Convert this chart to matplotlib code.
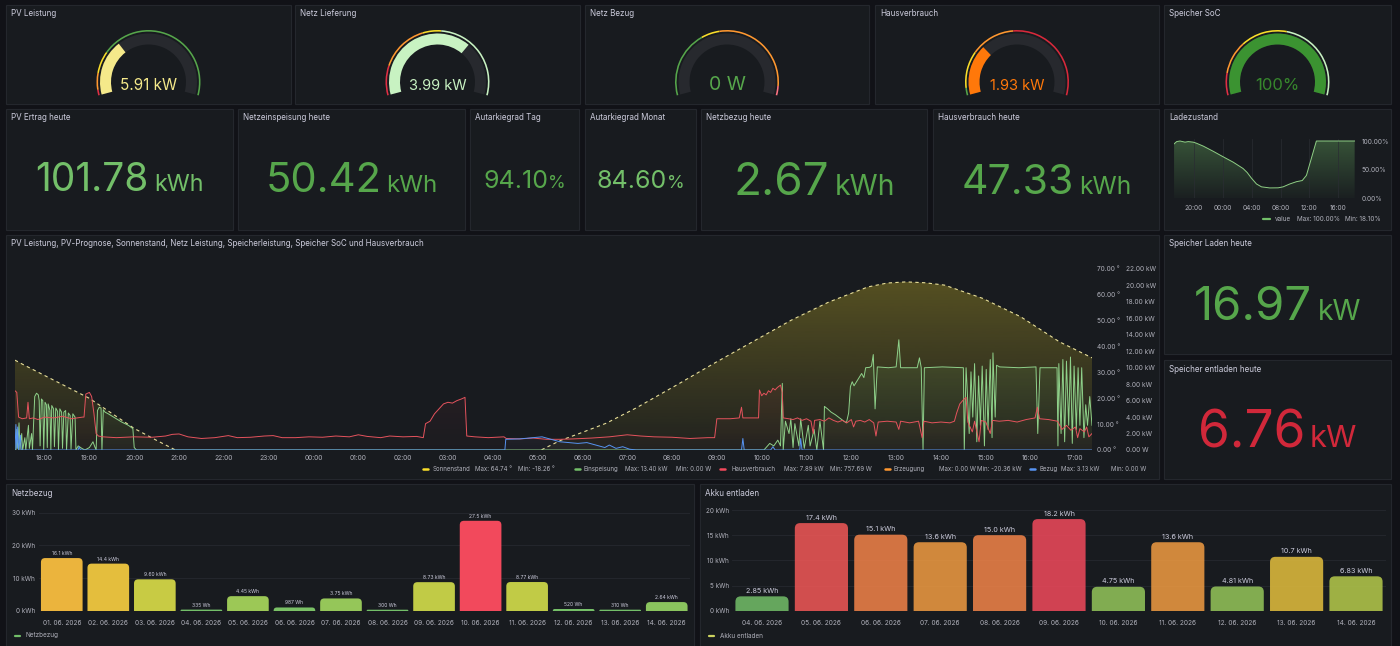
#!/usr/bin/env python3
"""PV dashboard (Grafana style) rebuilt with matplotlib -> out.png"""
import numpy as np
import matplotlib
matplotlib.use("Agg")
import matplotlib.pyplot as plt
from matplotlib.patches import Rectangle, Wedge, FancyBboxPatch
from matplotlib.colors import to_rgb

# ---------------- data ----------------
# hours since midnight of the first day (24 -> 00:00 next day)
sun_t = [17.34, 17.5, 18.0, 18.5, 19.0, 19.5, 20.0, 20.5, 20.92, 21.5, 22.5, 23.5, 24.5, 25.3,
         26.5, 27.5, 28.5, 29.08, 29.5, 30.0, 30.53, 31.2, 32.1, 32.95, 33.8, 34.66, 35.5,
         36.37, 36.8, 37.22, 37.65, 38.08, 38.93, 39.78, 40.64, 41.37]
sun_v = [34.6, 33.1, 28.7, 24.3, 19.9, 14.1, 8.3, 3.7, 0.0, -4.5, -11.0, -16.0, -18.2, -18.26,
         -16.5, -12.0, -6.0, 0.0, 3.6, 6.8, 10.3, 16.2, 25.0, 33.5, 41.7, 50.0, 57.0,
         62.8, 64.3, 64.74, 64.4, 63.5, 58.4, 51.3, 41.7, 35.5]

ein_t = [17.34, 17.36, 17.38, 17.40, 17.43, 17.45, 17.49, 17.51, 17.56, 17.58, 17.64, 17.66, 17.71,
         17.73, 17.78, 17.82, 17.86, 17.88, 17.90, 17.93, 17.96, 17.98, 18.01, 18.04, 18.06, 18.08,
         18.12, 18.14, 18.16, 18.20, 18.22, 18.25, 18.29, 18.31, 18.34, 18.38, 18.40, 18.43, 18.47,
         18.49, 18.53, 18.57, 18.59, 18.63, 18.68, 18.70, 18.75, 18.83, 18.90, 19.00, 19.08, 19.12,
         19.15, 19.18, 19.22, 19.26, 19.28, 19.31, 19.35, 19.42, 19.57, 19.72, 19.87, 19.97, 20.00,
         20.05, 34.05,
         34.10, 34.18, 34.27, 34.36, 34.42, 34.46, 34.48, 34.53, 34.61, 34.65, 34.70, 34.74, 34.83,
         34.87, 34.95, 35.04, 35.08, 35.17, 35.23, 35.30, 35.38, 35.40, 35.47, 35.55, 35.64, 35.81,
         35.89, 35.94, 35.98, 36.02, 36.06, 36.15, 36.23, 36.28, 36.32, 36.41, 36.45, 36.49, 36.53,
         36.58, 36.83, 37.00, 37.06, 37.10, 37.47, 37.52, 37.56, 37.60, 37.63, 38.03, 38.50, 38.52,
         38.56, 38.58, 38.63, 38.67, 38.71, 38.75, 38.80, 38.84, 38.88, 38.92, 38.97, 39.01, 39.05,
         39.10, 39.14, 39.16, 39.21, 39.24, 39.31, 39.74, 40.12, 40.16, 40.21, 40.59, 40.61, 40.63,
         40.68, 40.72, 40.76, 40.80, 40.85, 40.89, 40.93, 40.97, 41.02, 41.06, 41.10, 41.14, 41.19,
         41.23, 41.27, 41.32, 41.37]
ein_v = [0.0, 0.0, 2.5, 0.2, 3.3, 0.0, 2.0, 0.0, 1.5, 0.0, 3.0, 0.2, 2.0,
         0.0, 6.5, 6.9, 6.7, 6.0, 0.5, 6.2, 6.0, 0.0, 5.8, 5.5, 0.3, 5.6,
         4.8, 0.0, 5.4, 5.0, 0.4, 5.1, 4.7, 0.0, 5.0, 4.6, 0.2, 4.6, 4.8,
         0.0, 4.5, 4.2, 0.1, 4.4, 4.0, 0.0, 0.5, 0.2, 0.0, 0.3, 1.0, 0.4,
         0.0, 4.8, 5.2, 5.1, 0.0, 4.9, 4.6, 4.4, 3.9, 3.4, 3.0, 2.6, 0.3,
         0.0, 0.0,
         0.3, 0.8, 0.5, 1.2, 0.5, 8.1, 0.0, 3.5, 2.0, 3.8, 0.3, 3.2, 0.5,
         3.8, 0.2, 3.0, 0.5, 2.5, 0.0, 3.5, 0.0, 5.3, 5.0, 4.6, 4.3, 3.6,
         3.3, 4.5, 7.7, 8.3, 7.8, 8.6, 9.3, 8.8, 10.0, 10.05, 10.2, 11.6, 5.0,
         10.1, 10.0, 10.1, 13.4, 10.0, 10.0, 11.2, 10.0, 0.0, 10.0, 10.1, 10.0, 0.0,
         10.0, 8.0, 2.0, 9.5, 4.0, 10.5, 1.0, 9.0, 3.0, 10.2, 0.5, 9.8, 2.5,
         11.0, 1.5, 11.8, 4.0, 10.3, 10.1, 10.0, 10.1, 2.0, 10.0, 10.0, 0.5, 10.5,
         2.0, 11.0, 1.0, 10.8, 3.0, 11.3, 0.8, 10.2, 2.5, 10.0, 3.0, 10.0, 1.5,
         5.5, 3.0, 6.5, 3.0]

haus_t = [17.34, 17.38, 17.42, 17.50, 17.60, 17.63, 17.66, 17.75, 17.85, 18.00, 18.20, 18.40, 18.60,
          18.85, 18.88, 18.92, 19.00, 19.05, 19.10, 19.15, 19.20, 19.30, 19.60, 20.00, 20.40, 20.70,
          20.85, 21.00, 21.20, 21.50, 21.80, 22.10, 22.30, 22.60, 22.90, 23.10, 23.30, 23.60, 23.90,
          24.20, 24.50, 24.80, 25.00, 25.20, 25.50, 25.70, 26.00, 26.30, 26.45, 26.50, 26.60, 26.70,
          26.80, 26.90, 27.00, 27.10, 27.20, 27.30, 27.38, 27.42, 27.60, 27.90, 28.10, 28.25, 28.30,
          28.60, 28.90, 29.20, 29.50, 29.80, 30.20, 30.60, 31.00, 31.30, 31.60, 32.00, 32.40, 32.80,
          32.95, 33.00, 33.30, 33.50, 33.55, 33.58, 33.90, 33.93, 33.95, 34.00, 34.05, 34.10, 34.15,
          34.20, 34.25, 34.30, 34.35, 34.42, 34.46, 34.48, 34.60, 34.70, 34.80, 34.90, 35.00, 35.10,
          35.15, 35.18, 35.30, 35.40, 35.50, 35.60, 35.70, 35.80, 35.90, 36.00, 36.05, 36.10, 36.20,
          36.30, 36.40, 36.50, 36.55, 36.60, 36.80, 37.00, 37.06, 37.10, 37.30, 37.50, 37.58, 37.62,
          37.80, 38.00, 38.20, 38.30, 38.35, 38.42, 38.50, 38.56, 38.60, 38.70, 38.75, 38.85, 38.90,
          39.00, 39.10, 39.15, 39.30, 39.50, 39.70, 39.90, 40.10, 40.15, 40.20, 40.40, 40.60, 40.70,
          40.80, 40.90, 41.00, 41.05, 41.10, 41.20, 41.25, 41.30, 41.37]
haus_v = [7.2, 7.0, 4.0, 3.8, 3.9, 5.8, 3.8, 3.9, 3.7, 4.0, 3.9, 4.1, 3.8,
          4.0, 4.0, 6.8, 7.0, 6.5, 4.5, 2.0, 1.7, 1.6, 1.5, 1.6, 1.55, 1.7,
          1.9, 1.95, 1.6, 1.4, 1.5, 1.75, 1.5, 1.55, 1.7, 1.75, 1.5, 1.5, 1.6,
          1.55, 1.7, 1.6, 1.85, 1.65, 1.5, 1.7, 1.6, 1.65, 1.5, 3.2, 3.5, 4.4,
          5.0, 5.6, 5.8, 5.7, 6.0, 6.2, 6.4, 1.7, 1.6, 1.5, 1.55, 1.6, 1.4,
          1.35, 1.45, 1.3, 1.3, 1.35, 1.45, 1.6, 1.85, 1.7, 1.6, 1.55, 1.4, 1.5,
          1.5, 3.8, 3.8, 3.9, 5.2, 3.9, 3.9, 3.9, 7.3, 6.6, 6.9, 6.7, 7.2,
          7.0, 7.5, 7.3, 7.6, 7.89, 7.0, 3.9, 3.8, 3.7, 3.9, 3.6, 3.8, 3.5,
          2.0, 3.6, 3.7, 3.5, 3.9, 3.6, 3.4, 3.6, 3.3, 3.7, 2.8, 3.5, 3.6,
          3.4, 3.7, 3.3, 1.7, 3.4, 3.5, 3.4, 2.5, 3.5, 3.3, 3.5, 1.5, 3.5,
          3.3, 3.4, 3.3, 3.5, 4.5, 5.6, 6.1, 6.4, 3.4, 2.2, 3.5, 1.0, 3.6,
          3.4, 2.0, 3.6, 3.5, 3.6, 3.4, 3.7, 3.9, 5.2, 3.8, 3.7, 3.5, 2.5,
          3.0, 2.4, 2.8, 1.5, 2.6, 2.2, 2.8, 1.6, 2.0]

bez_t = [17.34, 17.36, 17.38, 17.40, 17.42, 17.46, 17.48, 18.75, 18.77, 18.80, 28.27, 28.29, 28.60,
         28.90, 29.10, 29.50, 29.90, 30.10, 30.30, 30.50, 30.60, 30.75, 30.90, 31.05, 31.20, 33.55,
         33.58, 33.61, 34.20, 34.25, 34.30, 34.85, 34.87, 34.90, 41.37]
bez_v = [0.0, 3.1, 0.2, 2.8, 0.0, 1.8, 0.0, 0.0, 0.4, 0.0, 0.0, 1.3, 1.35,
         1.5, 1.6, 1.0, 0.8, 0.9, 0.6, 0.3, 0.6, 0.2, 0.4, 0.1, 0.0, 0.0,
         1.4, 0.0, 0.0, 0.4, 0.0, 0.0, 1.4, 0.0, 0.0]

soc_t = [17.24, 17.6, 18.06, 18.76, 19.2, 19.9, 20.37, 21.3, 22.67, 23.96, 25.44, 26.8, 27.37,
         27.97, 28.66, 29.35, 30.5, 31.66, 32.35, 33.27, 34.2, 35.0, 35.58, 36.27, 36.96, 42.26]
soc_v = [95, 99, 100, 98, 99, 98, 96, 91, 82, 73, 63, 52, 45,
         35, 25, 20, 18.1, 18.3, 20, 25, 29, 31, 40, 70, 100, 100]

legend_items = [("Sonnenstand", "Max: 64.74 °", "Min: -18.26 °"),
                ("Einspeisung", "Max: 13.40 kW", "Min: 0.00 W"),
                ("Hausverbrauch", "Max: 7.89 kW", "Min: 757.69 W"),
                ("Erzeugung", "Max: 0.00 W", "Min: -20.36 kW"),
                ("Bezug", "Max: 3.13 kW", "Min: 0.00 W")]

netz_dates = ["01. 06. 2026", "02. 06. 2026", "03. 06. 2026", "04. 06. 2026", "05. 06. 2026",
              "06. 06. 2026", "07. 06. 2026", "08. 06. 2026", "09. 06. 2026", "10. 06. 2026",
              "11. 06. 2026", "12. 06. 2026", "13. 06. 2026", "14. 06. 2026"]
netz_vals = [16.1, 14.4, 9.60, 0.335, 4.45, 0.987, 3.75, 0.300, 8.73, 27.5, 8.77, 0.520, 0.310, 2.64]
netz_labels = ["16.1 kWh", "14.4 kWh", "9.60 kWh", "335 Wh", "4.45 kWh", "987 Wh", "3.75 kWh",
               "300 Wh", "8.73 kWh", "27.5 kWh", "8.77 kWh", "520 Wh", "310 Wh", "2.64 kWh"]

akku_dates = ["04. 06. 2026", "05. 06. 2026", "06. 06. 2026", "07. 06. 2026", "08. 06. 2026",
              "09. 06. 2026", "10. 06. 2026", "11. 06. 2026", "12. 06. 2026", "13. 06. 2026",
              "14. 06. 2026"]
akku_vals = [2.85, 17.4, 15.1, 13.6, 15.0, 18.2, 4.75, 13.6, 4.81, 10.7, 6.83]
akku_labels = ["2.85 kWh", "17.4 kWh", "15.1 kWh", "13.6 kWh", "15.0 kWh", "18.2 kWh",
               "4.75 kWh", "13.6 kWh", "4.81 kWh", "10.7 kWh", "6.83 kWh"]

# ---------------- style ----------------
W, H = 1400, 646
BG = "#111217"
PANEL = "#181b1f"
BORDER = "#24272d"
TXT = "#ccccdc"
TICK = "#b0b1bb"
TRACK = "#27292e"
GREEN, SEMI_GREEN, DARK_GREEN = "#73bf69", "#56a64b", "#3b9331"
YELLOW, RED, ORANGE, BLUE = "#fade2a", "#f2495c", "#ff9830", "#5794f2"
LEG_FS = 4.4

plt.rcParams["font.family"] = ["Inter", "DejaVu Sans"]

fig = plt.figure(figsize=(W / 100, H / 100), dpi=100, facecolor=BG)
cv = fig.add_axes([0, 0, 1, 1], zorder=-1)
cv.set_xlim(0, W)
cv.set_ylim(0, H)
cv.axis("off")


def Y(y):
    return H - y


def px_axes(x0, y0, x1, y1):
    ax = fig.add_axes([x0 / W, 1 - y1 / H, (x1 - x0) / W, (y1 - y0) / H])
    ax.set_facecolor("none")
    for s in ax.spines.values():
        s.set_visible(False)
    return ax


def panel(x0, y0, x1, y1, title):
    cv.add_patch(Rectangle((x0, Y(y1)), x1 - x0, y1 - y0, facecolor=PANEL,
                           edgecolor=BORDER, lw=0.8, zorder=0))
    cv.text(x0 + 5, Y(y0 + 9), title, color=TXT, fontsize=5.8, va="center", ha="left", zorder=3)


panels = [
    (6, 5, 291, 104, "PV Leistung"), (295, 5, 580, 104, "Netz Lieferung"),
    (585, 5, 869, 104, "Netz Bezug"), (875, 5, 1159, 104, "Hausverbrauch"),
    (1164, 5, 1391, 104, "Speicher SoC"),
    (6, 109, 233, 230, "PV Ertrag heute"), (238, 109, 465, 230, "Netzeinspeisung heute"),
    (470, 109, 579, 230, "Autarkiegrad Tag"), (585, 109, 696, 230, "Autarkiegrad Monat"),
    (701, 109, 927, 230, "Netzbezug heute"), (933, 109, 1159, 230, "Hausverbrauch heute"),
    (1164, 109, 1391, 230, "Ladezustand"),
    (6, 235, 1159, 479, "PV Leistung, PV-Prognose, Sonnenstand, Netz Leistung, Speicherleistung, "
                        "Speicher SoC und Hausverbrauch"),
    (1164, 235, 1391, 354, "Speicher Laden heute"), (1164, 360, 1391, 479, "Speicher entladen heute"),
    (6, 484, 694, 652, "Netzbezug"), (700, 484, 1391, 652, "Akku entladen"),
]
for p in panels:
    panel(*p)

# ---------------- gauges ----------------
G0, G1 = 195.0, -15.0


def ang(f):
    return G0 - (G0 - G1) * f


def gauge(cx, segs, frac, fill, text, tcolor, fs, cy=82):
    c = (cx, Y(cy))
    for f0, f1, col in segs:
        cv.add_patch(Wedge(c, 52, ang(f1), ang(f0), width=1.6, color=col, lw=0, zorder=1))
    cv.add_patch(Wedge(c, 48.5, G1, G0, width=11, color=TRACK, lw=0, zorder=1))
    if frac > 0:
        cv.add_patch(Wedge(c, 48.5, ang(frac), G0, width=11, color=fill, lw=0, zorder=2))
    cv.text(cx, Y(90.5), text, color=tcolor, fontsize=fs, ha="center", va="baseline", zorder=3)


gauge(148.5, [(0, 0.03, "#e02f44"), (0.03, 0.12, ORANGE), (0.12, 0.24, YELLOW), (0.24, 1, SEMI_GREEN)],
      0.32, "#f5e98a", "5.91 kW", "#f5e98a", 11)
gauge(437.5, [(0, 0.16, "#e02f44"), (0.16, 0.42, ORANGE), (0.42, 0.52, YELLOW), (0.52, 1, "#c8f2c2")],
      0.69, "#c8f2c2", "3.99 kW", "#c8f2c2", 10.5)
gauge(727, [(0, 0.36, SEMI_GREEN), (0.36, 0.46, YELLOW), (0.46, 0.95, ORANGE), (0.95, 1, "#ff7383")],
      0.0, GREEN, "0 W", SEMI_GREEN, 14)
gauge(1017, [(0, 0.04, SEMI_GREEN), (0.04, 0.24, YELLOW), (0.24, 0.48, ORANGE), (0.48, 1, "#d8293b")],
      0.29, "#ff780a", "1.93 kW", "#ff780a", 10.5)
gauge(1277.5, [(0, 0.12, "#e02f44"), (0.12, 0.3, ORANGE), (0.3, 0.55, YELLOW), (0.55, 1, "#c8f2c2")],
      1.0, DARK_GREEN, "100%", "#37872d", 12)

# ---------------- stat values ----------------
renderer = fig.canvas.get_renderer()


def stat(cx, base, num, unit, color, size, ratio=0.62, gap=5):
    t1 = cv.text(0, Y(base), num, fontsize=size, color=color, ha="left", va="baseline", zorder=3)
    t2 = cv.text(0, Y(base), unit, fontsize=size * ratio, color=color, ha="left", va="baseline",
                 zorder=3)
    w1 = t1.get_window_extent(renderer).width
    w2 = t2.get_window_extent(renderer).width
    x0 = cx - (w1 + gap + w2) / 2
    t1.set_x(x0)
    t2.set_x(x0 + w1 + gap)


stat(119.5, 191, "101.78", "kWh", GREEN, 28, 0.6)
stat(351.5, 192, "50.42", "kWh", SEMI_GREEN, 30, 0.58)
stat(524.5, 188, "94.10", "%", SEMI_GREEN, 18, 0.72, 0)
stat(640.5, 188, "84.60", "%", GREEN, 18, 0.72, 0)
stat(814.5, 195, "2.67", "kWh", SEMI_GREEN, 33)
stat(1046.5, 194, "47.33", "kWh", SEMI_GREEN, 29.5, 0.6)
stat(1277.5, 320, "16.97", "kW", SEMI_GREEN, 34, 0.6)
stat(1277.5, 447, "6.76", "kW", "#d1283a", 37, 0.6)


# ---------------- helpers ----------------
def grad_fill(ax, x, y, color, a_top, a_bot, ytop, z=1):
    x = np.asarray(x, float)
    y = np.clip(np.asarray(y, float), 0, None)
    poly = ax.fill_between(x, y, 0, facecolor="none", edgecolor="none")
    img = np.zeros((128, 1, 4))
    img[..., :3] = to_rgb(color)
    img[..., 3] = np.linspace(a_top, a_bot, 128)[:, None]
    im = ax.imshow(img, extent=[x.min(), x.max(), 0, ytop], aspect="auto", origin="upper",
                   zorder=z, interpolation="bilinear")
    im.set_clip_path(poly.get_paths()[0], transform=ax.transData)


def hour_labels(hours):
    return [f"{int(h) % 24:02d}:00" for h in hours]


# ---------------- Ladezustand mini chart ----------------
axs = px_axes(1174, 139, 1355, 198.3)
grad_fill(axs, soc_t, soc_v, GREEN, 0.35, 0.03, 103.5)
axs.plot(soc_t, soc_v, color="#8fcf85", lw=0.7, zorder=2)
axs.set_xlim(17.23, 42.31)
axs.set_ylim(0, 103.5)
sx = [20, 24, 28, 32, 36, 40]
axs.set_xticks(sx, hour_labels(sx))
axs.set_yticks([0, 50, 100], ["0.00%", "50.00%", "100.00%"])
axs.yaxis.tick_right()
axs.tick_params(axis="y", length=0, pad=5, labelsize=4.7, labelcolor=TICK)
axs.tick_params(axis="x", length=0, pad=4.5, labelsize=4.7, labelcolor=TICK)
axs.grid(axis="x", color="#2a2d33", lw=0.5)
cv.plot([1263, 1270], [Y(219)] * 2, color=GREEN, lw=1.6, solid_capstyle="round", zorder=3)
cv.text(1275, Y(219), "value", color=TICK, fontsize=4.6, va="center", zorder=3)
cv.text(1297, Y(219), "Max: 100.00%", color=TICK, fontsize=4.6, va="center", zorder=3)
cv.text(1345, Y(219), "Min: 18.10%", color=TICK, fontsize=4.6, va="center", zorder=3)

# ---------------- big time series ----------------
T0, T1 = 17.34, 41.37
DEG_TOP, KW_TOP = 72.4, 22.85
ax = px_axes(15, 262, 1092, 450)
ax2 = ax.twinx()  # twinx moves ax ticks to the left, so configure ax afterwards
ax2.patch.set_visible(False)
for s in ax2.spines.values():
    s.set_visible(False)

grad_fill(ax, sun_t, sun_v, YELLOW, 0.30, 0.04, DEG_TOP)
ax.plot(sun_t, sun_v, color="#e8df9a", lw=0.8, ls=(0, (3, 3)), zorder=3)
ax.set_xlim(T0, T1)
ax.set_ylim(0, DEG_TOP)
hx = list(range(18, 42))
ax.set_xticks(hx, hour_labels(hx))
ax.tick_params(axis="x", length=0, pad=3.5, labelsize=4.8, labelcolor=TICK)
dt = list(range(0, 71, 10))
ax.set_yticks(dt, [f"{v:.2f} °" for v in dt])
ax.yaxis.tick_right()
ax.tick_params(axis="y", length=0, pad=3.6, labelsize=4.7, labelcolor=TICK)

grad_fill(ax2, haus_t, haus_v, RED, 0.16, 0.02, KW_TOP, z=1)
grad_fill(ax2, ein_t, ein_v, GREEN, 0.22, 0.03, KW_TOP, z=1)
grad_fill(ax2, bez_t, bez_v, BLUE, 0.2, 0.03, KW_TOP, z=1)
ax2.plot(ein_t, ein_v, color="#8fd18a", lw=0.7, zorder=2)
ax2.plot(haus_t, haus_v, color="#e5535d", lw=0.7, zorder=3)
ax2.plot(bez_t, bez_v, color=BLUE, lw=0.7, zorder=4)
ax2.set_xlim(T0, T1)
ax2.set_ylim(0, KW_TOP)
kt = list(range(0, 23, 2))
ax2.set_yticks(kt, ["0.00 W" if v == 0 else f"{v:.2f} kW" for v in kt])
ax2.tick_params(axis="y", length=0, pad=24.5, labelsize=4.7, labelcolor=TICK)

leg_x = [423, 575, 720, 884.5, 1030]
leg_c = [YELLOW, GREEN, RED, ORANGE, BLUE]
leg_off = [(10, 52, 95), (8, 50, 101.5), (11.5, 64, 110), (8.5, 54.5, 92.5), (10, 31, 81)]
for x0, col, (name, mx, mn), (o1, o2, o3) in zip(leg_x, leg_c, legend_items, leg_off):
    cv.plot([x0, x0 + 5], [Y(469)] * 2, color=col, lw=1.8, solid_capstyle="round", zorder=3)
    for o, s in zip((o1, o2, o3), (name, mx, mn)):
        cv.text(x0 + o, Y(469), s, color=TICK, fontsize=LEG_FS, va="center", zorder=3)

# ---------------- bar charts ----------------
# Grafana "continuous-GrYlRd": d3 rgb basis spline through green, yellow, red
SCHEME = np.array([to_rgb(GREEN), to_rgb(YELLOW), to_rgb(RED)])


def scheme_color(t):
    n = len(SCHEME)
    t = min(max(t, 0.0), 1.0)
    i = min(int(t * (n - 1)), n - 2)
    u = t * (n - 1) - i
    v1, v2 = SCHEME[i], SCHEME[i + 1]
    v0 = SCHEME[i - 1] if i > 0 else 2 * v1 - v2
    v3 = SCHEME[i + 2] if i < n - 2 else 2 * v2 - v1
    u2, u3 = u * u, u * u * u
    c = ((1 - 3 * u + 3 * u2 - u3) * v0 + (4 - 6 * u2 + 3 * u3) * v1
         + (1 + 3 * u + 3 * u2 - 3 * u3) * v2 + u3 * v3) / 6
    return tuple(np.clip(c, 0, 1))


def bar_chart(box, dates, vals, labels, ytop, yticks, alpha, lab_fs, lab_gap, r=0.09):
    x0, y0, x1, y1 = box
    a = px_axes(x0, y0, x1, y1)
    n = len(vals)
    a.set_xlim(-0.5, n - 0.5)
    a.set_ylim(0, ytop)
    m = (ytop / (y1 - y0)) / (n / (x1 - x0))
    lo, hi = min(vals), max(vals)
    bars = a.bar(range(n), vals, width=0.895)
    for b, v, lab in zip(bars, vals, labels):
        b.set_visible(False)
        col = scheme_color((v - lo) / (hi - lo))
        rr = min(r * m, v)
        bot = -2 * rr
        a.add_patch(FancyBboxPatch((b.get_x(), bot), b.get_width(), v - bot,
                                   boxstyle=f"round,pad=0,rounding_size={rr / m:.4f}",
                                   mutation_aspect=m, facecolor=col, alpha=alpha, lw=0))
        a.text(b.get_x() + b.get_width() / 2, v + lab_gap * ytop / (y1 - y0), lab, color=TXT,
               fontsize=lab_fs, ha="center", va="bottom")
    a.set_xticks(range(n), dates)
    a.set_yticks(yticks, [f"{t:g} kWh" for t in yticks])
    a.tick_params(axis="x", length=0, pad=6.5, labelsize=4.7, labelcolor=TICK)
    a.tick_params(axis="y", length=0, pad=2.5, labelsize=4.6, labelcolor=TICK)
    a.grid(axis="y", color="#26292f", lw=0.6)
    a.set_axisbelow(True)
    return a


bar_chart((38.5, 510, 690, 610.7), netz_dates, netz_vals, netz_labels, 30.8,
          [0, 10, 20, 30], 1.0, 3.6, 2)
bar_chart((732.3, 509, 1385.7, 610.7), akku_dates, akku_vals, akku_labels, 20.2,
          [0, 5, 10, 15, 20], 0.85, 5.2, 2.5)

cv.plot([14.7, 20], [Y(635.5)] * 2, color=GREEN, lw=1.6, solid_capstyle="round", zorder=3)
cv.text(25, Y(635.5), "Netzbezug", color=TICK, fontsize=4.6, va="center", zorder=3)
cv.plot([708.5, 713.5], [Y(635.5)] * 2, color="#cdd35f", lw=1.6, solid_capstyle="round", zorder=3)
cv.text(720.5, Y(635.5), "Akku entladen", color=TICK, fontsize=4.6, va="center", zorder=3)

fig.savefig("out.png", dpi=100, facecolor=BG)
